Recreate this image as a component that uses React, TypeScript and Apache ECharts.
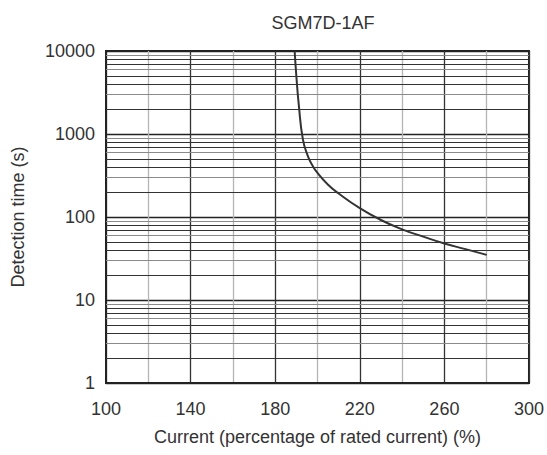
import React, { useEffect, useRef } from "react";
import * as echarts from "echarts";

const titleText = "SGM7D-1AF";
const xAxisName = "Current (percentage of rated current) (%)";
const yAxisName = "Detection time (s)";

// curve: current (%) vs detection time (s)
const currentValues = [189.2, 190, 191.2, 193.1, 195.4, 197.8, 200, 205, 210, 220, 230, 240, 250, 260, 270, 280];
const timeValues = [10000, 5000, 2180, 860, 545, 410, 340, 245, 192, 128, 92, 71, 58, 48, 41, 35];

const decades = [1, 10, 100, 1000];
const minorMultipliers = [2, 3, 4, 5, 6, 7, 8, 9];
const darkMultipliers = [2, 4, 5, 7, 8];

export default function App() {
  const ref = useRef<HTMLDivElement>(null);
  useEffect(() => {
    if (!ref.current) return;
    const chart = echarts.init(ref.current, null, { renderer: "svg" });
    const font = "'Liberation Sans', Arial, sans-serif";
    const hLines: any[] = [];
    decades.forEach((d) => {
      minorMultipliers.forEach((m) => {
        const dark = darkMultipliers.includes(m);
        hLines.push({
          yAxis: d * m,
          lineStyle: { color: dark ? "#333" : "#8a8a8a", width: 1, type: "solid" },
        });
      });
    });
    chart.setOption({
      animation: false,
      backgroundColor: "#fff",
      title: {
        text: titleText,
        left: 318,
        top: 9,
        textAlign: "center",
        textStyle: { fontFamily: font, fontSize: 18, fontWeight: "normal", color: "#333" },
      },
      grid: {
        left: 106,
        right: 17,
        top: 51,
        bottom: 72,
        show: true,
        borderColor: "#222",
        borderWidth: 2,
        backgroundColor: "transparent",
      },
      xAxis: {
        type: "value",
        min: 100,
        max: 300,
        interval: 40,
        name: xAxisName,
        nameLocation: "middle",
        nameGap: 45,
        nameTextStyle: { fontFamily: font, fontSize: 18, color: "#333" },
        axisLine: { show: true, onZero: false, lineStyle: { color: "#222", width: 2 } },
        axisTick: { show: false },
        axisLabel: { fontFamily: font, fontSize: 18, color: "#333", margin: 17 },
        splitLine: { show: true, lineStyle: { color: "#333", width: 1.3 } },
        minorTick: { show: false, splitNumber: 2 },
        minorSplitLine: { show: true, lineStyle: { color: "#b5b5b5", width: 1.3 } },
      },
      yAxis: {
        type: "log",
        logBase: 10,
        min: 1,
        max: 10000,
        name: yAxisName,
        nameLocation: "middle",
        nameRotate: 90,
        nameGap: 79,
        nameTextStyle: { fontFamily: font, fontSize: 18, color: "#333" },
        axisLine: { show: true, lineStyle: { color: "#222", width: 2 } },
        axisTick: { show: false },
        axisLabel: {
          fontFamily: font,
          fontSize: 18,
          color: "#333",
          margin: 11,
          formatter: (v: number) => String(Math.round(v)),
        },
        splitLine: { show: true, lineStyle: { color: "#222", width: 1.3 } },
        minorTick: { show: false },
        minorSplitLine: { show: false },
      },
      series: [
        {
          type: "line",
          data: [],
          z: 1,
          silent: true,
          markLine: {
            silent: true,
            symbol: ["none", "none"],
            label: { show: false },
            animation: false,
            data: hLines,
          },
        },
        {
          type: "line",
          z: 5,
          smooth: true,
          showSymbol: false,
          symbol: "none",
          lineStyle: { color: "#333", width: 2 },
          data: currentValues.map((x, i) => [x, timeValues[i]]),
        },
      ],
    });
    return () => chart.dispose();
  }, []);
  return <div ref={ref} style={{ width: 547, height: 455, position: "absolute", left: 0, top: 0 }} />;
}
